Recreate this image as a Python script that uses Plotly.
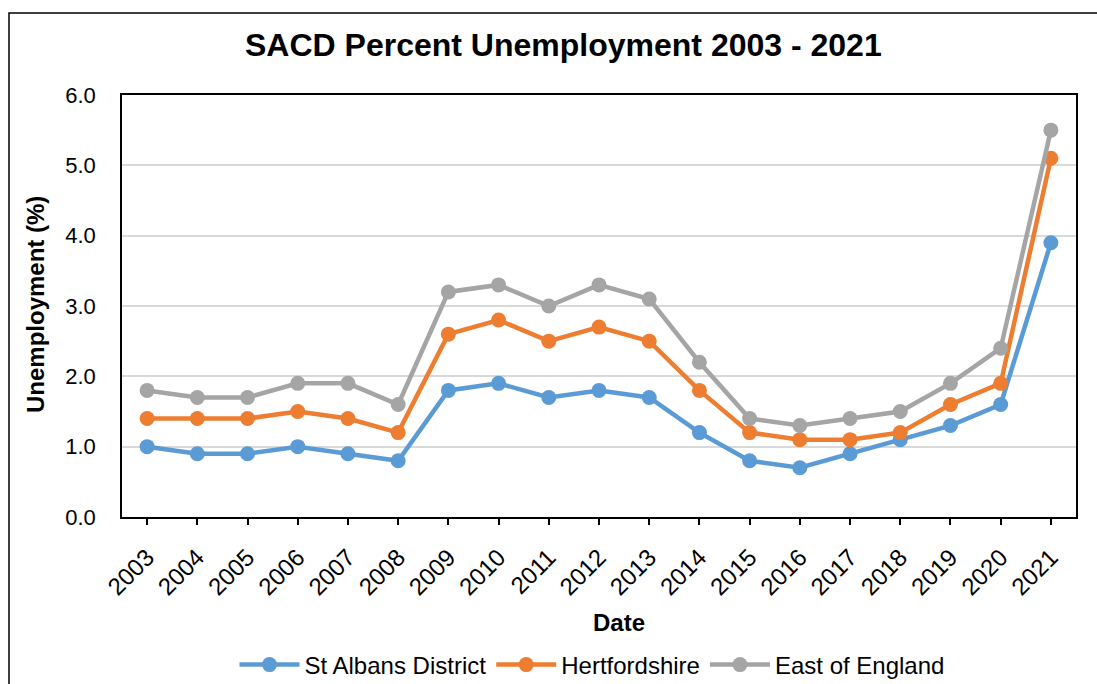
import plotly.graph_objects as go

years = [str(y) for y in range(2003, 2022)]
st_albans = [1.0, 0.9, 0.9, 1.0, 0.9, 0.8, 1.8, 1.9, 1.7, 1.8, 1.7, 1.2, 0.8, 0.7, 0.9, 1.1, 1.3, 1.6, 3.9]
herts = [1.4, 1.4, 1.4, 1.5, 1.4, 1.2, 2.6, 2.8, 2.5, 2.7, 2.5, 1.8, 1.2, 1.1, 1.1, 1.2, 1.6, 1.9, 5.1]
east = [1.8, 1.7, 1.7, 1.9, 1.9, 1.6, 3.2, 3.3, 3.0, 3.3, 3.1, 2.2, 1.4, 1.3, 1.4, 1.5, 1.9, 2.4, 5.5]

series = [
    ("St Albans District", st_albans, "#5B9BD5"),
    ("Hertfordshire", herts, "#ED7D31"),
    ("East of England", east, "#A5A5A5"),
]

W, H = 1097, 684
L, R, T, B = 122, 1076, 95, 517
pw, ph = R - L, B - T

def px(x):
    return (x - L) / pw

def py(y):
    return (B - y) / ph

fig = go.Figure()
for name, vals, col in series:
    fig.add_trace(go.Scatter(
        x=years, y=vals, name=name, mode="lines+markers",
        line=dict(color=col, width=4.5),
        marker=dict(color=col, size=15),
    ))

font = "Arial, Liberation Sans, sans-serif"
fig.update_layout(
    width=W, height=H,
    margin=dict(l=L, r=W - R, t=T, b=H - B, autoexpand=False),
    paper_bgcolor="white", plot_bgcolor="white",
    font=dict(family=font, size=22, color="black"),
    showlegend=True,
    legend=dict(orientation="h", x=px(592), y=py(665), xanchor="center", yanchor="middle",
                font=dict(size=24), itemwidth=60, tracegroupgap=0),
    xaxis=dict(type="category", showline=True, linecolor="black", linewidth=1.5, mirror=True,
               ticks="outside", ticklen=6, tickcolor="black", tickwidth=1.5, tickangle=-45,
               showgrid=False, tickfont=dict(size=24), range=[-0.5, 18.5],
               ticklabelstandoff=9, automargin=False),
    yaxis=dict(range=[0, 6], dtick=1, tickformat=".1f", showline=True, linecolor="black",
               linewidth=1.5, mirror=True, showgrid=True, gridcolor="#D9D9D9", gridwidth=1.5,
               zeroline=False, ticks="", ticklabelstandoff=20, tickfont=dict(size=22),
               automargin=False),
    annotations=[
        dict(text="<b>SACD Percent Unemployment 2003 - 2021</b>", xref="paper", yref="paper",
             x=px(563), y=py(45), xanchor="center", yanchor="middle", showarrow=False,
             font=dict(size=32)),
        dict(text="<b>Date</b>", xref="paper", yref="paper", x=px(619), y=py(622),
             xanchor="center", yanchor="middle", showarrow=False, font=dict(size=24)),
        dict(text="<b>Unemployment (%)</b>", xref="paper", yref="paper", x=px(35), y=py(305),
             xanchor="center", yanchor="middle", showarrow=False, textangle=-90,
             font=dict(size=24)),
    ],
    shapes=[
        dict(type="rect", xref="paper", yref="paper", x0=px(9), x1=px(1110), y0=py(700), y1=py(13),
             line=dict(color="black", width=1.5), fillcolor="rgba(0,0,0,0)", layer="below"),
    ],
)

fig.write_html("out.html")
